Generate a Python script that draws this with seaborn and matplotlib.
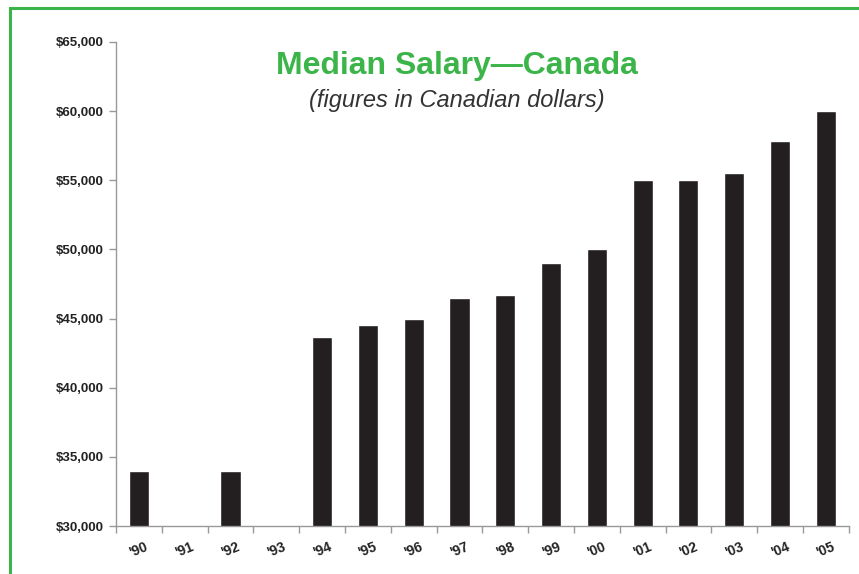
import numpy as np
import pandas as pd
import matplotlib.pyplot as plt
import seaborn as sns
from matplotlib.patches import Rectangle
from matplotlib.ticker import FuncFormatter, FixedLocator

# data ('91 and '93 have no bar)
years = ["'90", "'91", "'92", "'93", "'94", "'95", "'96", "'97",
         "'98", "'99", "'00", "'01", "'02", "'03", "'04", "'05"]
salaries = [34000, np.nan, 34000, np.nan, 43700, 44500, 45000, 46500,
            46700, 49000, 50000, 55000, 55000, 55500, 57800, 60000]

GREEN = '#3bb54a'
BAR = '#231f20'
AXIS_GREY = '#999999'

df = pd.DataFrame({'year': years, 'salary': salaries})

sns.set_style('white')
plt.rcParams['font.family'] = ['Liberation Sans', 'DejaVu Sans']

fig = plt.figure(figsize=(8.59, 5.74), dpi=100)
ax = fig.add_axes([0.135, 0.0836, 0.853, 0.8434])

sns.barplot(data=df, x='year', y='salary', order=years, color=BAR,
            width=0.44, errorbar=None, saturation=1, ax=ax)

ax.set_ylim(30000, 65000)
ax.set_xlim(-0.5, len(years) - 0.5)
ax.set_yticks(np.arange(30000, 65001, 5000))
ax.yaxis.set_major_formatter(FuncFormatter(lambda v, p: f'${v:,.0f}'))
ax.set_xlabel('')
ax.set_ylabel('')

# ticks sit between the categories, labels under each bar
ax.xaxis.set_minor_locator(FixedLocator(np.arange(-0.5, len(years), 1)))
ax.tick_params(axis='x', which='major', length=0, pad=10, bottom=True)
ax.tick_params(axis='x', which='minor', length=5, color=AXIS_GREY, width=1,
               bottom=True)
ax.tick_params(axis='y', length=5, color=AXIS_GREY, width=1, left=True)
for lbl in ax.get_xticklabels():
    lbl.set_rotation(22)
    lbl.set_fontsize(10)
    lbl.set_fontweight('bold')
    lbl.set_color('#222222')
for lbl in ax.get_yticklabels():
    lbl.set_fontsize(9.5)
    lbl.set_fontweight('bold')
    lbl.set_color('#222222')

sns.despine(ax=ax, top=True, right=True)
for side in ['left', 'bottom']:
    ax.spines[side].set_color(AXIS_GREY)
    ax.spines[side].set_linewidth(1)

fig.text(457 / 859, 1 - 66 / 574, 'Median Salary\u2014Canada', color=GREEN,
         fontsize=23, fontweight='bold', ha='center', va='center')
fig.text(457 / 859, 1 - 101 / 574, '(figures in Canadian dollars)', color='#333333',
         fontsize=17, fontstyle='italic', ha='center', va='center')

# green frame: only left and top edges fall inside the picture
fig.patches.append(Rectangle((10 / 859, -0.1), 1.2, (574 - 8) / 574 + 0.1,
                             transform=fig.transFigure, fill=False,
                             edgecolor=GREEN, linewidth=2.2))

fig.savefig('out.png', dpi=100)
